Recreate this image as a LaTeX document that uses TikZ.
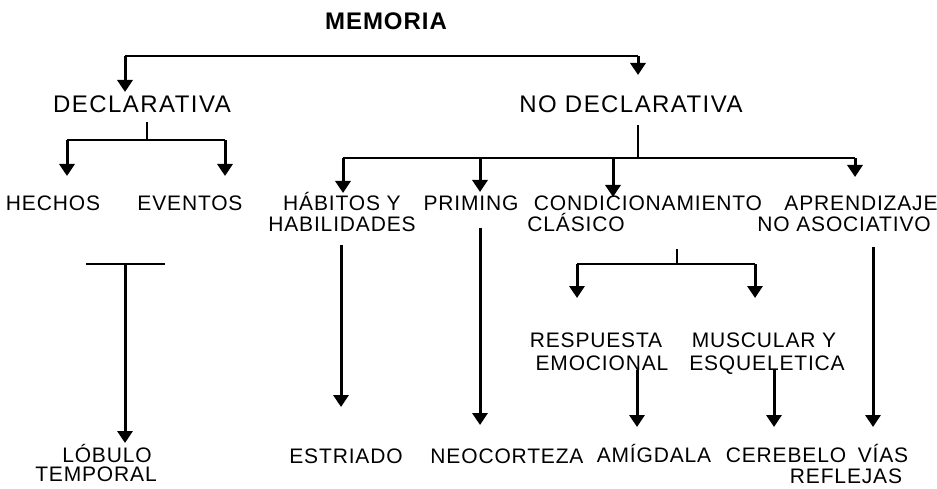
\documentclass[tikz,border=0pt]{standalone}
\usepackage{fontspec}
\setmainfont{Liberation Sans}
\newfontfamily\lblfont[LetterSpace=4]{Liberation Sans}
\newfontfamily\bigfont[LetterSpace=6]{Liberation Sans}
\usetikzlibrary{arrows.meta}
\begin{document}
\begin{tikzpicture}[x=1pt,y=-1pt,
  lbl/.style={anchor=base,inner sep=0pt,font=\lblfont\fontsize{21}{23}\selectfont},
  big/.style={anchor=base,inner sep=0pt,font=\bigfont\fontsize{24}{27}\selectfont},
  arr/.style={line width=3pt,-{Triangle[width=15pt,length=12pt]}},
  ln/.style={line width=1.6pt}]
\useasboundingbox (0,0) rectangle (937,489);
% texts
\node[anchor=base,inner sep=0pt,font=\lblfont\fontsize{24}{26}\selectfont\bfseries] (mem) at (386,30) {MEMORIA};
\node[big] (dec) at (142,113) {DECLARATIVA};
\node[big] (nodec) at (631,113) {NO DECLARATIVA};
\node[lbl] (hech) at (53,211) {HECHOS};
\node[lbl] (even) at (190,211) {EVENTOS};
\node[lbl] (hab1) at (342,211) {HÁBITOS Y};
\node[lbl] (hab2) at (342,232) {HABILIDADES};
\node[lbl] (prim) at (471,211) {PRIMING};
\node[lbl] (cond1) at (648,211) {CONDICIONAMIENTO};
\node[lbl] (cond2) at (576,232) {CLÁSICO};
\node[lbl] (apr1) at (861,211) {APRENDIZAJE};
\node[lbl] (apr2) at (844,232) {NO ASOCIATIVO};
\node[lbl] (resp1) at (596,347) {RESPUESTA};
\node[lbl] (resp2) at (602,370) {EMOCIONAL};
\node[lbl] (mus1) at (764,347) {MUSCULAR Y};
\node[lbl] (mus2) at (767,370) {ESQUELETICA};
\node[lbl] (lob1) at (107,462) {LÓBULO};
\node[lbl] (lob2) at (96,481) {TEMPORAL};
\node[lbl] (estr) at (346,463) {ESTRIADO};
\node[lbl] (neo) at (507,463) {NEOCORTEZA};
\node[lbl] (amig) at (654,462) {AMÍGDALA};
\node[lbl] (cere) at (786,462) {CEREBELO};
\node[lbl] (vias1) at (883,462) {VÍAS};
\node[lbl] (vias2) at (846,483) {REFLEJAS};
% junction coordinates
\coordinate (tl) at (125,56);
\coordinate (tr) at (638,56);
\coordinate (tdec) at (125,92);
\coordinate (tnd) at (638,75);
\coordinate (ds) at (147,122);
\coordinate (dj) at (147,140);
\coordinate (dl) at (67,140);
\coordinate (dr) at (225,140);
\coordinate (thech) at (67,176);
\coordinate (teven) at (225,176);
\coordinate (ns) at (638,125);
\coordinate (nj) at (638,158);
\coordinate (n1) at (343,158);
\coordinate (n2) at (480,158);
\coordinate (n3) at (613,158);
\coordinate (n4) at (855,158);
\coordinate (thab) at (343,193);
\coordinate (tprim) at (480,192);
\coordinate (tcond) at (613,197);
\coordinate (tapr) at (855,177);
\coordinate (la) at (86,264);
\coordinate (lb) at (165,264);
\coordinate (lm) at (125,264);
\coordinate (tlob) at (125,443);
\coordinate (hs) at (341,245);
\coordinate (testr) at (341,407);
\coordinate (ps) at (480,228);
\coordinate (tneo) at (480,425);
\coordinate (cs) at (677,249);
\coordinate (cj) at (677,264);
\coordinate (cl) at (577,264);
\coordinate (cr) at (755,264);
\coordinate (tresp) at (577,298);
\coordinate (tmus) at (755,298);
\coordinate (es) at (637,370);
\coordinate (tamig) at (637,427);
\coordinate (ms) at (774,370);
\coordinate (tcere) at (774,427);
\coordinate (as) at (873,247);
\coordinate (tvias) at (873,427);
% connectors
\draw[ln] (tl) -- (tr);
\draw[arr] (tl) -- (tdec);
\draw[arr] (tr) -- (tnd);
\draw[ln] (ds) -- (dj);
\draw[ln] (dl) -- (dr);
\draw[arr] (dl) -- (thech);
\draw[arr] (dr) -- (teven);
\draw[ln] (ns) -- (nj);
\draw[ln] (n1) -- (n4);
\draw[arr] (n1) -- (thab);
\draw[arr] (n2) -- (tprim);
\draw[arr] (n3) -- (tcond);
\draw[arr] (n4) -- (tapr);
\draw[ln] (la) -- (lb);
\draw[arr] (lm) -- (tlob);
\draw[arr] (hs) -- (testr);
\draw[arr] (ps) -- (tneo);
\draw[ln] (cs) -- (cj);
\draw[ln] (cl) -- (cr);
\draw[arr] (cl) -- (tresp);
\draw[arr] (cr) -- (tmus);
\draw[arr] (es) -- (tamig);
\draw[arr] (ms) -- (tcere);
\draw[arr] (as) -- (tvias);
\end{tikzpicture}
\end{document}
